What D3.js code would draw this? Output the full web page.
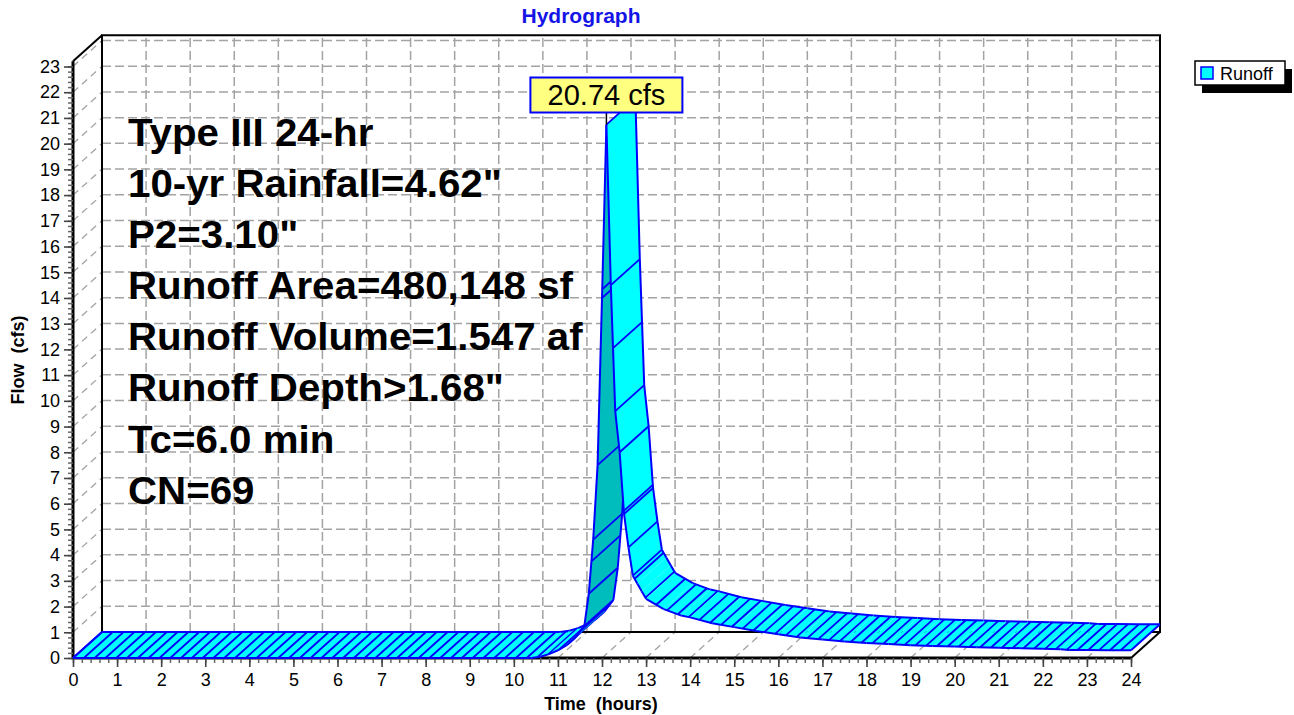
<!DOCTYPE html>
<html>
<head>
<meta charset="utf-8">
<script src="https://cdn.jsdelivr.net/npm/d3@7"></script>
<style>
  body { margin: 0; background: #fff; }
  svg { display: block; font-family: "Liberation Sans", Arial, sans-serif; }
</style>
</head>
<body>
<svg id="hydro" width="1294" height="715"></svg>
<script>
// data (hours, cfs)
const hours = [0, 10.4, 10.6, 10.8, 11.0, 11.2, 11.4, 11.6, 11.7, 11.8, 11.9, 12.0, 12.1,
  12.2, 12.3, 12.4, 12.5, 12.6, 12.7, 12.8, 12.9, 13.0, 13.4, 13.8, 14.0, 14.5, 15.0,
  15.5, 16.0, 16.5, 17.0, 17.5, 18.0, 18.5, 19.0, 19.5, 20.0, 20.5, 21.0, 21.5, 22.0,
  22.4, 22.6, 23.0, 23.5, 24.0];
const flows = [0, 0, 0.05, 0.15, 0.3, 0.5, 0.8, 1.25, 2.5, 4.6, 7.5, 14.0, 20.74,
  14.5, 9.6, 8.0, 5.6, 4.3, 3.2, 2.9, 2.6, 2.3, 1.9, 1.65, 1.58, 1.35, 1.2,
  1.05, 0.92, 0.8, 0.72, 0.64, 0.58, 0.54, 0.5, 0.47, 0.45, 0.42, 0.4, 0.38, 0.36,
  0.34, 0.31, 0.31, 0.3, 0.3];

const hourTicks = d3.range(0, 25);
const flowTicks = d3.range(0, 24);

const infoLines = [
  "Type III 24-hr",
  "10-yr Rainfall=4.62\"",
  "P2=3.10\"",
  "Runoff Area=480,148 sf",
  "Runoff Volume=1.547 af",
  "Runoff Depth>1.68\"",
  "Tc=6.0 min",
  "CN=69"
];
const peakLabel = "20.74 cfs";
const seriesName = "Runoff";

const svg = d3.select("#hydro");

// scales (front plane) + 3d depth offset
const x = d3.scaleLinear().domain([0, 24]).range([73, 1131]);
const y = d3.scaleLinear().domain([0, 23]).range([658, 66.5]);
const yMax = 23.2;
const DX = 29, DY = -26;

const gridColor = "#a3a3a3";
const blue = "#0000ff";

svg.append("rect").attr("width", 1294).attr("height", 715).attr("fill", "#fff");

// title
svg.append("text")
  .attr("x", 581).attr("y", 23)
  .attr("text-anchor", "middle")
  .attr("font-weight", "bold")
  .attr("font-size", 21)
  .attr("fill", "#1414e6")
  .text("Hydrograph");

// -------------------------------
// back wall grid
// -------------------------------
const grid = svg.append("g");

grid.selectAll("line.vgrid")
  .data(hourTicks.slice(1, -1))
  .enter().append("line")
  .attr("x1", d => x(d) + DX).attr("x2", d => x(d) + DX)
  .attr("y1", y(0) + DY).attr("y2", y(yMax) + DY)
  .attr("stroke", gridColor).attr("stroke-width", 1.5)
  .attr("stroke-dasharray", "9,4");

grid.selectAll("line.hgrid")
  .data(flowTicks.slice(1))
  .enter().append("line")
  .attr("x1", x(0) + DX).attr("x2", x(24) + DX)
  .attr("y1", d => y(d) + DY).attr("y2", d => y(d) + DY)
  .attr("stroke", gridColor).attr("stroke-width", 1.5)
  .attr("stroke-dasharray", "9,4");

// side wall diagonals
grid.selectAll("line.side")
  .data(flowTicks.slice(1))
  .enter().append("line")
  .attr("x1", x(0)).attr("y1", d => y(d))
  .attr("x2", x(0) + DX).attr("y2", d => y(d) + DY)
  .attr("stroke", gridColor).attr("stroke-width", 1.3)
  .attr("stroke-dasharray", "7,5");

// floor diagonals
grid.selectAll("line.floor")
  .data(hourTicks.slice(1, -1))
  .enter().append("line")
  .attr("x1", d => x(d)).attr("y1", y(0))
  .attr("x2", d => x(d) + DX).attr("y2", y(0) + DY)
  .attr("stroke", gridColor).attr("stroke-width", 1.3)
  .attr("stroke-dasharray", "7,5");

// frame
const frame = svg.append("g").attr("stroke", "#000").attr("fill", "none");
frame.append("path")
  .attr("stroke-width", 2)
  .attr("d", `M${x(0) + DX},${y(0) + DY} V${y(yMax) + DY} H${x(24) + DX} V${y(0) + DY} Z`);
frame.append("path")
  .attr("stroke-width", 2)
  .attr("d", `M${x(0)},${y(yMax)} L${x(0) + DX},${y(yMax) + DY}`);
frame.append("path")
  .attr("stroke-width", 2)
  .attr("d", `M${x(24)},${y(0)} L${x(24) + DX},${y(0) + DY}`);

// -------------------------------
// axes
// -------------------------------
function styleAxis(g, size) {
  g.select(".domain").remove();
  g.selectAll("text")
    .attr("font-size", size)
    .attr("font-family", "Liberation Sans, Arial, sans-serif")
    .attr("fill", "#000");
}

const minorX = d3.range(0, 24.01, 0.2);
const minorY = d3.range(0, 23.01, 0.2);

svg.append("g")
  .attr("transform", `translate(0,${y(0)})`)
  .call(d3.axisBottom(x).tickValues(minorX).tickSize(5).tickFormat(""))
  .call(g => g.select(".domain").remove())
  .selectAll("line").attr("stroke", "#666").attr("stroke-width", 1.5);

svg.append("g")
  .attr("transform", `translate(${x(0)},0)`)
  .call(d3.axisLeft(y).tickValues(minorY).tickSize(5).tickFormat(""))
  .call(g => g.select(".domain").remove())
  .selectAll("line").attr("stroke", "#666").attr("stroke-width", 1.5);

svg.append("g")
  .attr("transform", `translate(0,${y(0)})`)
  .call(d3.axisBottom(x).tickValues(hourTicks).tickSize(9).tickPadding(6))
  .call(g => styleAxis(g, 18))
  .selectAll("line").attr("stroke", "#444").attr("stroke-width", 1.6);

svg.append("g")
  .attr("transform", `translate(${x(0)},0)`)
  .call(d3.axisLeft(y).tickValues(flowTicks).tickSize(9).tickPadding(4))
  .call(g => styleAxis(g, 18))
  .selectAll("line").attr("stroke", "#444").attr("stroke-width", 1.6);

// axis lines on the front plane
frame.append("path")
  .attr("stroke-width", 3)
  .attr("d", `M${x(0)},${y(yMax)} V${y(0)} H${x(24)}`);

svg.append("text")
  .attr("x", 601).attr("y", 710)
  .attr("text-anchor", "middle")
  .attr("font-weight", "bold").attr("font-size", 18)
  .style("white-space", "pre")
  .text("Time  (hours)");

svg.append("text")
  .attr("transform", "translate(24,360) rotate(-90)")
  .attr("text-anchor", "middle")
  .attr("font-weight", "bold").attr("font-size", 18)
  .style("white-space", "pre")
  .text("Flow  (cfs)");

// -------------------------------
// 3d ribbon
// -------------------------------
const pts = hours.map((h, i) => ({ t: h, q: flows[i] }));
const segs = d3.pairs(pts);
const ribbon = svg.append("g");
const hatchStep = 0.245; // hours between hatch strokes

const front = p => [x(p.t), y(p.q)];
const back = p => [x(p.t) + DX, y(p.q) + DY];
const steep = (a, b) => Math.abs((b.q - a.q) / (b.t - a.t)) > 4;

segs.forEach(([a, b], si) => {
  const fa = front(a), fb = front(b), ba = back(a), bb = back(b);
  // which side of the strip faces the viewer
  const cross = (fb[0] - fa[0]) * (-DY) - (fa[1] - fb[1]) * DX;
  ribbon.append("path")
    .attr("d", `M${fa}L${fb}L${bb}L${ba}Z`)
    .attr("fill", cross >= 0 ? "#00ffff" : "#00bdbd");

  // hatch strokes along the depth direction
  const q = d3.scaleLinear().domain([a.t, b.t]).range([a.q, b.q]);
  const ts = d3.range(Math.ceil(a.t / hatchStep) * hatchStep, b.t, hatchStep);
  if (si > 0 && (steep(a, b) || steep(segs[si - 1][0], a))) ts.push(a.t);
  ribbon.selectAll(null)
    .data(ts)
    .enter().append("line")
    .attr("x1", t => x(t)).attr("y1", t => y(q(t)))
    .attr("x2", t => x(t) + DX).attr("y2", t => y(q(t)) + DY)
    .attr("stroke", blue).attr("stroke-width", 1.8);

  ribbon.append("path")
    .attr("d", `M${fa}L${fb}M${ba}L${bb}`)
    .attr("stroke", blue).attr("stroke-width", 2)
    .attr("stroke-linejoin", "round").attr("fill", "none");
});

// end edges
[pts[0], pts[pts.length - 1]].forEach(p => {
  ribbon.append("line")
    .attr("x1", x(p.t)).attr("y1", y(p.q))
    .attr("x2", x(p.t) + DX).attr("y2", y(p.q) + DY)
    .attr("stroke", blue).attr("stroke-width", 2);
});

// -------------------------------
// peak label
// -------------------------------
const peak = pts[d3.maxIndex(pts, d => d.q)];
svg.append("line")
  .attr("x1", x(peak.t)).attr("x2", x(peak.t))
  .attr("y1", y(peak.q)).attr("y2", 112)
  .attr("stroke", "#000").attr("stroke-width", 1.5);

const lbl = svg.append("g").attr("transform", `translate(${x(peak.t)},95)`);
lbl.append("rect")
  .attr("x", -76).attr("y", -17.5).attr("width", 152).attr("height", 35)
  .attr("fill", "#ffff80").attr("stroke", blue).attr("stroke-width", 2);
lbl.append("text")
  .attr("text-anchor", "middle").attr("y", 10)
  .attr("font-size", 29)
  .text(peakLabel);

// -------------------------------
// info text
// -------------------------------
svg.append("g")
  .attr("transform", "translate(128,0) scale(1.06,1)")
  .selectAll("text")
  .data(infoLines)
  .enter().append("text")
  .attr("x", 0)
  .attr("y", (d, i) => 146 + i * 51.1)
  .attr("font-weight", "bold")
  .attr("font-size", 38)
  .text(d => d);

// -------------------------------
// legend
// -------------------------------
const legend = svg.append("g").attr("transform", "translate(1195,61)");
legend.append("rect")
  .attr("x", 7).attr("y", 8).attr("width", 90).attr("height", 24).attr("fill", "#000");
legend.append("rect")
  .attr("width", 90).attr("height", 24)
  .attr("fill", "#fff").attr("stroke", "#000").attr("stroke-width", 1.5);
legend.append("rect")
  .attr("x", 6).attr("y", 6).attr("width", 12).attr("height", 12)
  .attr("fill", "#00ffff").attr("stroke", blue).attr("stroke-width", 1.5);
legend.append("text")
  .attr("x", 25).attr("y", 19)
  .attr("font-size", 18)
  .text(seriesName);
</script>
</body>
</html>
